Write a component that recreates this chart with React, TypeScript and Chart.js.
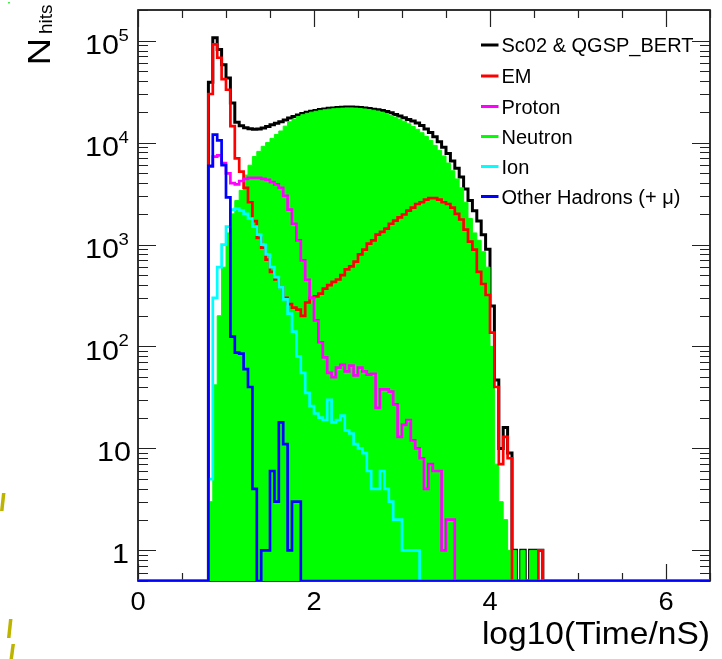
import React, { useEffect, useRef } from "react";
import { Chart, registerables } from "chart.js";

Chart.register(...registerables);

// ---- histogram binning (log10(Time/nS)) ----
const FIRST_EDGE = 0.8;
const BIN_WIDTH = 0.05;
const X_MIN = 0;
const X_MAX = 6.5;
const Y_MIN = 0.5;
const Y_MAX = 2e5;

// ---- bin contents, starting at FIRST_EDGE ----
const TOTAL = [
  39000, 107000, 82000, 58000, 43000, 24500, 15800, 14600, 14000, 13700,
  13500, 13600, 13900, 14400, 15000, 15500, 16000, 16700, 17400, 18000,
  18700, 19300, 19800, 20300, 20700, 21100, 21400, 21700, 21900, 22100,
  22200, 22300, 22300, 22200, 22100, 21900, 21600, 21300, 21000, 20700,
  20200, 19600, 18900, 18200, 17500, 16900, 16300, 15600, 14700, 13600,
  12600, 11400, 10200, 9000, 7800, 6600, 5600, 4600, 3500, 2700,
  2150, 1700, 1250, 900, 250, 47, 10, 16, 9, 1,
  0, 1, 0, 1, 1, 1,
];
const EM = [
  30000, 92000, 68000, 42000, 33000, 14500, 7000, 5200, 3600, 2600,
  1700, 1160, 930, 710, 540, 454, 380, 300, 260, 240,
  230, 200, 270, 300, 310, 330, 370, 400, 430, 454,
  500, 570, 610, 680, 800, 890, 1020, 1100, 1250, 1330,
  1430, 1600, 1720, 1850, 1970, 2150, 2300, 2500, 2600, 2760,
  2850, 2850, 2760, 2600, 2500, 2300, 2000, 1760, 1400, 1070,
  890, 540, 410, 320, 137, 40, 7, 13, 8, 0,
  0, 0, 0, 0, 0, 1,
];
const PROTON = [
  5800, 7300, 7500, 6300, 5000, 4000, 3900, 4200, 4400, 4500,
  4500, 4500, 4400, 4300, 4100, 3900, 3600, 3000, 2200, 1600,
  1100, 700, 450, 300, 180, 110, 78, 55, 50, 62,
  66, 57, 65, 52, 62, 57, 53, 54, 25, 38,
  38, 36, 27, 13, 17, 19, 12, 10, 8, 4,
  7, 6, 6, 1, 2, 2,
];
const NEUTRON = [
  3, 42, 200, 600, 1300, 2000, 2700, 3400, 4800, 6000,
  7300, 8200, 9200, 10000, 11000, 12000, 13000, 14500, 16000, 17000,
  18000, 18800, 19400, 19900, 20300, 20700, 21000, 21300, 21500, 21700,
  21800, 21900, 21900, 21800, 21600, 21400, 21100, 20800, 20400, 19900,
  19300, 18400, 17800, 17000, 16200, 15300, 14400, 13500, 12500, 11500,
  10500, 9400, 8400, 7400, 6300, 5300, 4400, 3600, 2600, 1800,
  1300, 1100, 850, 600, 100, 7, 3, 2, 1, 1,
  0, 1, 0, 1, 1,
];
const ION = [
  5, 300, 600, 1000, 1500, 2200, 2250, 2150, 2000, 1800,
  1500, 1250, 1000, 800, 600, 480, 380, 290, 210, 140,
  80, 55, 35, 26, 22, 20, 19, 30, 18, 19,
  21, 15, 14, 11, 10, 9, 6, 4, 4, 6,
  4, 3, 2, 2, 1, 1, 1, 1,
];
const OTHER = [
  5900, 12000, 10500, 6000, 2900, 125, 87, 85, 60, 40,
  4, 0, 1, 1, 6, 3, 18, 11, 1, 3,
  3,
];

const LEGEND_LABELS = [
  "Sc02 & QGSP_BERT",
  "EM",
  "Proton",
  "Neutron",
  "Ion",
  "Other Hadrons (+ \u03bc)",
];
const X_TICK_VALUES = [0, 2, 4, 6];
const X_TICK_LABELS = ["0", "2", "4", "6"];
const Y_DECADES = [0, 1, 2, 3, 4, 5];
const X_TITLE = "log10(Time/nS)";
const Y_TITLE_MAIN = "N";
const Y_TITLE_SUB = "hits";

const COLORS = {
  total: "#000000",
  em: "#ff0000",
  proton: "#ff00ff",
  neutron: "#00ff00",
  ion: "#00ffff",
  other: "#0000ff",
};
const LEGEND_COLORS = [COLORS.total, COLORS.em, COLORS.proton, COLORS.neutron, COLORS.ion, COLORS.other];

const FONT = '"Liberation Sans", Arial, Helvetica, sans-serif';

function histPoints(values: number[]) {
  const pts: { x: number; y: number }[] = [{ x: X_MIN, y: Y_MIN }];
  values.forEach((v, i) => {
    pts.push({ x: FIRST_EDGE + i * BIN_WIDTH, y: v > 0 ? v : Y_MIN });
  });
  pts.push({ x: FIRST_EDGE + values.length * BIN_WIDTH, y: Y_MIN });
  pts.push({ x: X_MAX, y: Y_MIN });
  return pts;
}

function drawText(
  ctx: CanvasRenderingContext2D,
  s: string,
  x: number,
  y: number,
  size: number,
  align: CanvasTextAlign,
  sx = 1
) {
  ctx.save();
  ctx.font = `${size}px ${FONT}`;
  ctx.textAlign = align;
  ctx.textBaseline = "alphabetic";
  ctx.fillStyle = "#000";
  ctx.translate(x, y);
  ctx.scale(sx, 1);
  ctx.fillText(s, 0, 0);
  ctx.restore();
}

// small stray marks at the left edge of the original picture
const STRAY_MARKS = [
  { x: 0, y: 493, h: 18, color: "#bdb400" },
  { x: 7, y: 619, h: 19, color: "#bdb400" },
  { x: 9.5, y: 644, h: 15, color: "#bdb400" },
];

const rootPlugin = {
  id: "rootStyle",
  beforeDatasetsDraw(chart: any) {
    const { ctx, chartArea: a, scales } = chart;
    const xs = scales.x;
    const ys = scales.y;
    ctx.save();
    ctx.strokeStyle = "#000";
    ctx.lineWidth = 1.6;
    ctx.strokeRect(a.left, a.top, a.right - a.left, a.bottom - a.top);

    ctx.lineWidth = 1.2;
    ctx.strokeStyle = "#222";
    for (let k = 0; k <= 13; k++) {
      const t = k * 0.5;
      const px = Math.round(xs.getPixelForValue(t)) + 0.5;
      const len = k % 4 === 0 ? 17 : 8;
      ctx.beginPath();
      ctx.moveTo(px, a.bottom);
      ctx.lineTo(px, a.bottom - len);
      ctx.moveTo(px, a.top);
      ctx.lineTo(px, a.top + len);
      ctx.stroke();
    }
    for (let d = -1; d <= 5; d++) {
      for (let m = 1; m <= 9; m++) {
        const v = m * Math.pow(10, d);
        if (v < Y_MIN || v > Y_MAX) continue;
        const py = Math.round(ys.getPixelForValue(v)) + 0.5;
        const len = m === 1 ? 18 : 10;
        ctx.beginPath();
        ctx.moveTo(a.left, py);
        ctx.lineTo(a.left + len, py);
        ctx.moveTo(a.right, py);
        ctx.lineTo(a.right - len, py);
        ctx.stroke();
      }
    }
    ctx.restore();
  },
  afterDraw(chart: any) {
    const { ctx, scales } = chart;
    const xs = scales.x;
    const ys = scales.y;
    const SX = 1.09;

    Y_DECADES.forEach((d) => {
      const py = ys.getPixelForValue(Math.pow(10, d));
      if (d === 0) {
        drawText(ctx, "1", 129, py + 12.5, 28, "right", SX);
      } else if (d === 1) {
        drawText(ctx, "10", 131, py + 13, 28, "right", SX);
      } else {
        drawText(ctx, "10", 119, py + 13.5, 28, "right", SX);
        drawText(ctx, String(d), 118.5, py + 0, 17, "left", SX);
      }
    });

    X_TICK_VALUES.forEach((t, i) => {
      const px = xs.getPixelForValue(t);
      drawText(ctx, X_TICK_LABELS[i], px, 610, 25, "center", SX);
    });

    drawText(ctx, X_TITLE, 710, 644, 30.5, "right", 1.1);

    ctx.save();
    ctx.translate(50, 63);
    ctx.rotate(-Math.PI / 2);
    ctx.fillStyle = "#000";
    ctx.font = `32px ${FONT}`;
    ctx.textBaseline = "alphabetic";
    ctx.textAlign = "left";
    ctx.save();
    ctx.scale(1.2, 1);
    ctx.fillText(Y_TITLE_MAIN, -2, 0);
    ctx.restore();
    ctx.font = `19px ${FONT}`;
    ctx.fillText(Y_TITLE_SUB, 29, 2);
    ctx.restore();

    const rows = [45, 76, 106.5, 136.5, 166.5, 196.5];
    LEGEND_LABELS.forEach((lab, i) => {
      const y = rows[i];
      ctx.save();
      ctx.strokeStyle = LEGEND_COLORS[i];
      ctx.lineWidth = 3;
      ctx.beginPath();
      ctx.moveTo(481, y);
      ctx.lineTo(498.5, y);
      ctx.stroke();
      ctx.restore();
      drawText(ctx, lab, 501.5, y + 7, 20, "left", 1);
    });

    ctx.save();
    STRAY_MARKS.forEach((m) => {
      ctx.fillStyle = m.color;
      ctx.beginPath();
      ctx.moveTo(m.x, m.y + m.h);
      ctx.lineTo(m.x + 3.5, m.y + m.h);
      ctx.lineTo(m.x + 5.5, m.y);
      ctx.lineTo(m.x + 2, m.y);
      ctx.closePath();
      ctx.fill();
    });
    ctx.fillStyle = "#44ee44";
    ctx.fillRect(8, 2, 2, 1.5);
    ctx.restore();
  },
};

export default function App() {
  const canvasRef = useRef<HTMLCanvasElement | null>(null);

  useEffect(() => {
    if (!canvasRef.current) return;
    const lw = 2.7;
    const common = {
      stepped: "before" as const,
      pointRadius: 0,
      pointHoverRadius: 0,
      tension: 0,
      borderJoinStyle: "miter" as const,
      borderCapStyle: "butt" as const,
      borderWidth: lw,
      fill: false,
    };
    const chart = new Chart(canvasRef.current, {
      type: "line",
      data: {
        datasets: [
          { ...common, label: "Other", data: histPoints(OTHER), borderColor: COLORS.other, order: 0 },
          { ...common, label: "Ion", data: histPoints(ION), borderColor: COLORS.ion, order: 1 },
          { ...common, label: "Proton", data: histPoints(PROTON), borderColor: COLORS.proton, order: 2 },
          { ...common, label: "EM", data: histPoints(EM), borderColor: COLORS.em, order: 3 },
          {
            ...common,
            label: "Neutron",
            data: histPoints(NEUTRON),
            borderColor: COLORS.neutron,
            backgroundColor: COLORS.neutron,
            borderWidth: 1,
            fill: "start",
            order: 4,
          },
          { ...common, label: "Total", data: histPoints(TOTAL), borderColor: COLORS.total, borderWidth: 3, order: 5 },
        ],
      },
      options: {
        animation: false,
        responsive: false,
        maintainAspectRatio: false,
        devicePixelRatio: 1,
        events: [],
        layout: { padding: { left: 138, right: 12, top: 10, bottom: 78 } },
        plugins: {
          legend: { display: false },
          tooltip: { enabled: false },
        },
        scales: {
          x: { type: "linear", min: X_MIN, max: X_MAX, display: false },
          y: { type: "logarithmic", min: Y_MIN, max: Y_MAX, display: false },
        },
      },
      plugins: [rootPlugin],
    });
    return () => chart.destroy();
  }, []);

  return (
    <div style={{ position: "absolute", left: 0, top: 0, width: 722, height: 659, background: "#fff" }}>
      <canvas ref={canvasRef} width={722} height={659} style={{ width: 722, height: 659, display: "block" }} />
    </div>
  );
}
